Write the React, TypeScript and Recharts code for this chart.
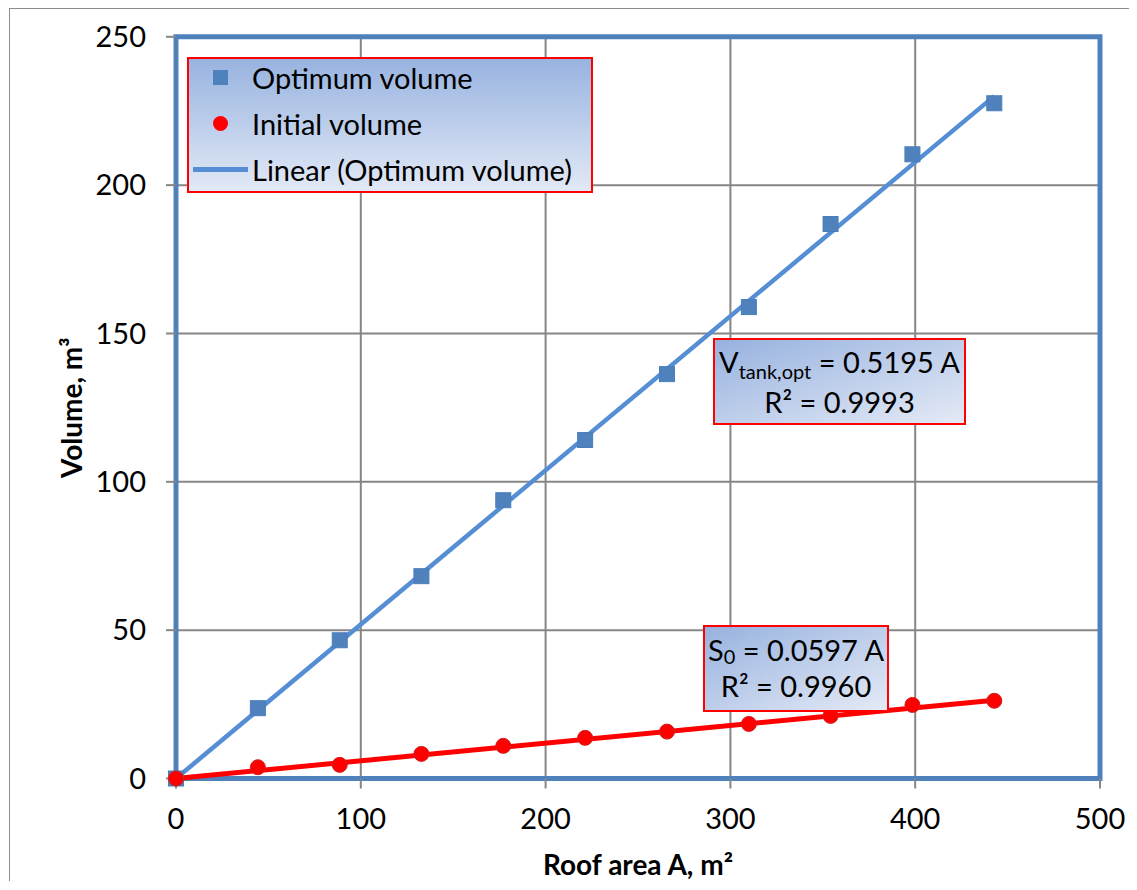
import {
  ComposedChart, Scatter, Line, XAxis, YAxis, CartesianGrid, ReferenceArea, Legend,
} from 'recharts'

// roof area A (m²) and the two volume series (m³)
const roofArea = [0, 44.3, 88.6, 132.8, 177.1, 221.4, 265.7, 310, 354.2, 398.5, 442.8]
const optimumVolume = [0, 23.7, 46.6, 68.2, 93.8, 114.1, 136.3, 158.9, 186.9, 210.4, 227.6]
const initialVolume = [0, 3.8, 4.6, 8.3, 11.0, 13.7, 15.8, 18.4, 21.1, 24.8, 26.2]

// trend line end points
const trendArea = [0, 442.8]
const optimumTrend = [0, 230]
const initialTrend = [0, 26.4]

const xTicks = [0, 100, 200, 300, 400, 500]
const yTicks = [0, 50, 100, 150, 200, 250]

const optimumPts = roofArea.map((x, i) => ({ x, y: optimumVolume[i] }))
const initialPts = roofArea.map((x, i) => ({ x, y: initialVolume[i] }))
const optimumLine = trendArea.map((x, i) => ({ x, y: optimumTrend[i] }))
const initialLine = trendArea.map((x, i) => ({ x, y: initialTrend[i] }))

const BLUE = '#4F81BD'
const LINE_BLUE = '#558ED5'
const RED = '#FF0000'
const GRID = '#868686'

const Square = (p: any) => (
  <rect x={p.cx - 7.5} y={p.cy - 7.5} width={15} height={15} fill={BLUE} stroke="#4A7EBB" strokeWidth={1} />
)
const Dot = (p: any) => (
  <circle cx={p.cx} cy={p.cy} r={7.5} fill={RED} stroke="#D02020" strokeWidth={1} />
)

const YTitle = (props: any) => {
  const vb = props.viewBox
  const cy = vb.y + vb.height / 2
  return (
    <text x={72} y={cy} transform={`rotate(-90, 72, ${cy})`} textAnchor="middle"
      fontSize={28} fontWeight="bold" fill="#000">
      Volume, m³
    </text>
  )
}

const XTitle = (props: any) => {
  const vb = props.viewBox
  return (
    <text x={vb.x + vb.width / 2} y={866} textAnchor="middle" fontSize={28} fontWeight="bold" fill="#000">
      Roof area A, m²
    </text>
  )
}

const legendRows = [
  { label: 'Optimum volume', kind: 'square' },
  { label: 'Initial volume', kind: 'circle' },
  { label: 'Linear (Optimum volume)', kind: 'line' },
]

const LegendBox = () => (
  <div style={{
    width: 406, height: 136, boxSizing: 'border-box', border: `2px solid ${RED}`,
    background: 'linear-gradient(to bottom, #98B3E0, #E2E9F6)', fontSize: 29, color: '#000',
  }}>
    <div style={{ marginTop: -4 }}>
      {legendRows.map(r => (
        <div key={r.label} style={{ display: 'flex', alignItems: 'center', height: 45.8, lineHeight: '45.8px' }}>
          <div style={{ width: 63, display: 'flex', justifyContent: 'center' }}>
            {r.kind === 'square' && <div style={{ width: 15, height: 15, background: BLUE }} />}
            {r.kind === 'circle' && <div style={{ width: 15, height: 15, borderRadius: '50%', background: RED }} />}
            {r.kind === 'line' && <div style={{ width: 55, height: 4.5, background: LINE_BLUE }} />}
          </div>
          <span style={{ whiteSpace: 'nowrap' }}>{r.label}</span>
        </div>
      ))}
    </div>
  </div>
)

const boxStyle = {
  position: 'absolute' as const, boxSizing: 'border-box' as const, border: `2px solid ${RED}`,
  background: 'linear-gradient(to bottom right, #97B2DF, #E4EAF6)', fontSize: 29, color: '#000',
  textAlign: 'center' as const, whiteSpace: 'nowrap' as const,
}
const sub = (shift: number) => ({ fontSize: 20, position: 'relative' as const, top: shift, lineHeight: 0 })

export default function App() {
  return (
    <div style={{
      position: 'relative', marginLeft: 1, width: 1120, height: 872,
      borderLeft: '1px solid #8c8c8c', borderTop: '1px solid #8c8c8c', fontFamily: 'Lato, sans-serif',
    }}>
      <ComposedChart width={1120} height={872} margin={{ top: 27.8, right: 30, bottom: 40.5, left: 86 }}>
        <CartesianGrid stroke={GRID} strokeWidth={2} />
        <XAxis type="number" dataKey="x" domain={[0, 500]} ticks={xTicks} interval={0}
          axisLine={false} tickLine={{ stroke: GRID, strokeWidth: 2 }} tickSize={10} tickMargin={20}
          tick={{ fontSize: 29, fill: '#000' }} height={62} label={{ content: XTitle }} />
        <YAxis type="number" dataKey="y" domain={[0, 250]} ticks={yTicks} interval={0}
          axisLine={false} tickLine={{ stroke: GRID, strokeWidth: 2 }} tickSize={10} tickMargin={20}
          tick={{ fontSize: 29, fill: '#000' }} width={80} label={{ content: YTitle }} />
        <ReferenceArea x1={0} x2={500} y1={0} y2={250} fill="none" fillOpacity={0}
          stroke={BLUE} strokeWidth={5} strokeOpacity={1} />
        <Scatter name="Optimum volume" data={optimumPts} shape={Square} isAnimationActive={false} />
        <Scatter name="Initial volume" data={initialPts} shape={Dot} isAnimationActive={false} />
        <Line name="Linear (Optimum volume)" data={optimumLine} dataKey="y" stroke={LINE_BLUE}
          strokeWidth={4.5} dot={false} activeDot={false} isAnimationActive={false} />
        <Line name="Linear (Initial volume)" data={initialLine} dataKey="y" stroke={RED}
          strokeWidth={5} dot={false} activeDot={false} isAnimationActive={false} />
        <Legend layout="vertical" align="center" verticalAlign="middle" content={LegendBox}
          wrapperStyle={{ left: 177, top: 48, width: 406, height: 136 }} />
      </ComposedChart>

      <div style={{ ...boxStyle, left: 703, top: 329, width: 253, height: 87, paddingTop: 2, lineHeight: '40px' }}>
        <div>V<span style={sub(6)}>tank,opt</span> = 0.5195 A</div>
        <div>R² = 0.9993</div>
      </div>
      <div style={{ ...boxStyle, left: 693, top: 616, width: 186, height: 87, paddingTop: 4.5, lineHeight: '36.5px' }}>
        <div>S<span style={sub(3)}>0</span> = 0.0597 A</div>
        <div>R² = 0.9960</div>
      </div>
    </div>
  )
}
